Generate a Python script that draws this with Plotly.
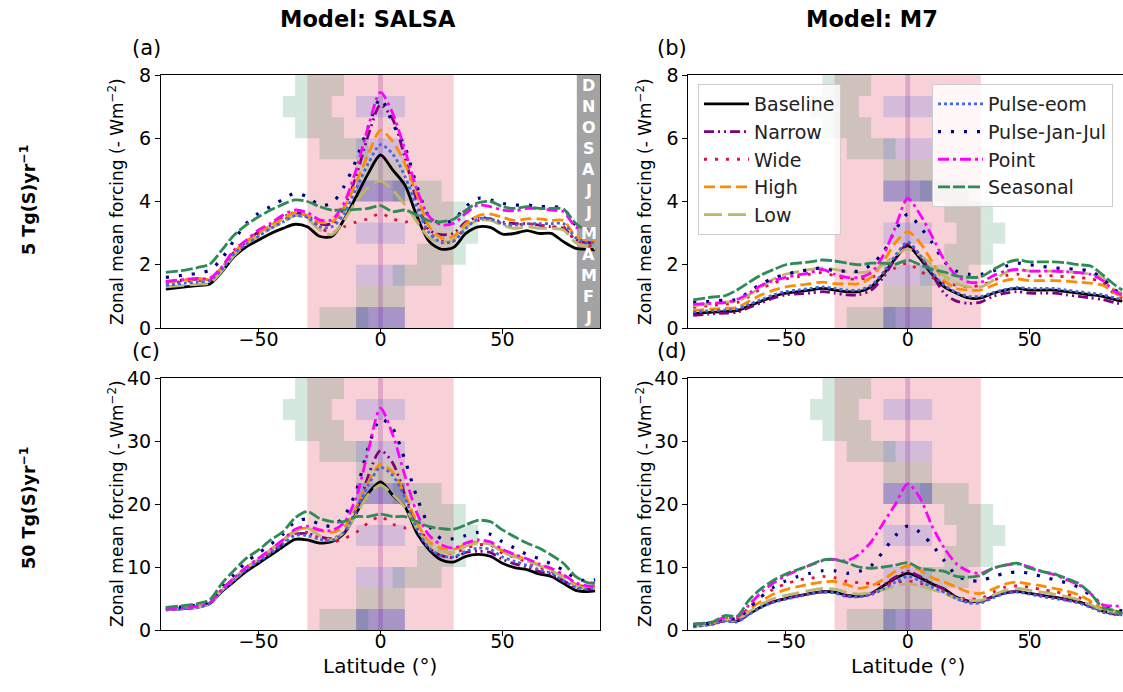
import plotly.graph_objects as go

W, H = 1123, 692

lat = [-88, -80, -75, -70, -65, -60, -55, -50, -45, -40, -35, -30, -25, -20, -15, -10, -5, 0,
       5, 10, 15, 20, 25, 30, 35, 40, 45, 50, 55, 60, 65, 70, 75, 80, 85, 88]

series = ["Baseline", "Narrow", "Wide", "High", "Low", "Pulse-eom", "Pulse-Jan-Jul", "Point", "Seasonal"]

# ---------- Panel (a): SALSA, 5 Tg(S)/yr ----------
a_baseline = [1.23, 1.30, 1.34, 1.39, 1.78, 2.26, 2.57, 2.78, 2.99, 3.15, 3.28, 3.20, 2.90, 2.89, 3.42, 4.15, 4.89, 5.47,
              5.00, 4.52, 3.52, 2.73, 2.49, 2.55, 2.99, 3.20, 3.18, 2.97, 2.99, 3.08, 2.99, 2.99, 2.73, 2.52, 2.49, 2.47]
a_narrow = [1.45, 1.52, 1.55, 1.55, 1.90, 2.40, 2.72, 3.05, 3.25, 3.50, 3.65, 3.55, 3.30, 3.30, 3.80, 4.80, 6.10, 7.05,
            6.60, 5.40, 4.00, 3.10, 2.95, 3.00, 3.35, 3.50, 3.45, 3.35, 3.30, 3.30, 3.25, 3.20, 3.15, 2.80, 2.70, 2.70]
a_wide = [1.40, 1.48, 1.50, 1.50, 1.90, 2.40, 2.70, 2.95, 3.20, 3.40, 3.60, 3.50, 3.20, 3.00, 3.20, 3.35, 3.45, 3.62,
          3.45, 3.35, 3.40, 3.00, 2.75, 2.75, 3.20, 3.40, 3.45, 3.30, 3.25, 3.30, 3.25, 3.20, 3.20, 2.75, 2.60, 2.60]
a_high = [1.45, 1.52, 1.55, 1.55, 1.90, 2.40, 2.75, 3.00, 3.25, 3.45, 3.65, 3.55, 3.35, 3.35, 3.80, 4.60, 5.50, 6.25,
          5.90, 5.20, 4.20, 3.20, 2.85, 2.90, 3.30, 3.55, 3.60, 3.50, 3.40, 3.45, 3.45, 3.40, 3.40, 2.90, 2.75, 2.75]
a_low = [1.30, 1.35, 1.38, 1.42, 1.80, 2.30, 2.65, 2.90, 3.15, 3.35, 3.55, 3.45, 3.10, 2.95, 3.40, 4.00, 4.45, 4.65,
         4.35, 3.90, 3.35, 2.85, 2.70, 2.80, 3.20, 3.40, 3.40, 3.25, 3.15, 3.20, 3.15, 3.15, 3.10, 2.70, 2.55, 2.50]
a_pulse_eom = [1.35, 1.42, 1.45, 1.50, 1.85, 2.35, 2.65, 2.90, 3.15, 3.35, 3.55, 3.50, 3.20, 3.20, 3.60, 4.40, 5.20, 5.80,
               5.50, 4.80, 3.80, 3.00, 2.70, 2.75, 3.15, 3.45, 3.45, 3.30, 3.25, 3.30, 3.30, 3.30, 3.30, 2.85, 2.70, 2.70]
a_pulse_janjul = [1.60, 1.68, 1.73, 1.83, 2.20, 2.78, 3.31, 3.63, 3.84, 4.07, 4.26, 4.15, 3.89, 3.94, 4.47, 5.31, 6.37, 7.26,
                  6.47, 5.73, 4.47, 3.52, 3.31, 3.42, 3.84, 4.10, 4.05, 3.94, 3.89, 3.89, 3.84, 3.84, 3.78, 3.26, 3.10, 3.05]
a_point = [1.47, 1.54, 1.57, 1.57, 1.94, 2.47, 2.78, 3.10, 3.31, 3.57, 3.73, 3.65, 3.42, 3.42, 3.94, 5.00, 6.37, 7.45,
           6.79, 5.63, 4.36, 3.52, 3.26, 3.31, 3.63, 3.89, 3.84, 3.73, 3.71, 3.78, 3.78, 3.73, 3.68, 3.20, 3.08, 3.05]
a_seasonal = [1.76, 1.83, 1.91, 2.02, 2.47, 2.94, 3.26, 3.52, 3.73, 3.91, 4.05, 4.00, 3.84, 3.73, 3.73, 3.75, 3.78, 3.87,
              3.68, 3.73, 3.57, 3.39, 3.36, 3.44, 3.73, 3.96, 4.00, 3.84, 3.78, 3.84, 3.78, 3.78, 3.76, 3.31, 3.05, 3.00]

# ---------- Panel (b): M7, 5 Tg(S)/yr ----------
b_baseline = [0.45, 0.50, 0.52, 0.55, 0.70, 0.85, 1.00, 1.10, 1.15, 1.20, 1.25, 1.20, 1.15, 1.15, 1.30, 1.70, 2.20, 2.60,
              2.20, 1.70, 1.30, 1.10, 0.95, 0.95, 1.10, 1.20, 1.25, 1.20, 1.20, 1.20, 1.15, 1.10, 1.05, 1.00, 0.90, 0.85]
b_narrow = [0.40, 0.45, 0.47, 0.50, 0.65, 0.80, 0.95, 1.05, 1.08, 1.10, 1.15, 1.10, 1.05, 1.05, 1.20, 1.60, 2.20, 2.65,
            2.30, 1.70, 1.10, 0.85, 0.78, 0.82, 1.00, 1.10, 1.15, 1.10, 1.10, 1.10, 1.05, 1.00, 0.95, 0.90, 0.80, 0.75]
b_wide = [0.65, 0.72, 0.75, 0.80, 1.00, 1.25, 1.42, 1.55, 1.62, 1.70, 1.75, 1.65, 1.55, 1.55, 1.60, 1.75, 1.90, 2.05,
          1.80, 1.60, 1.45, 1.35, 1.30, 1.35, 1.50, 1.65, 1.70, 1.65, 1.65, 1.65, 1.62, 1.60, 1.55, 1.45, 1.05, 0.95]
b_high = [0.55, 0.60, 0.62, 0.65, 0.85, 1.05, 1.20, 1.30, 1.35, 1.40, 1.45, 1.40, 1.40, 1.40, 1.60, 2.10, 2.70, 3.05,
          2.70, 2.10, 1.50, 1.25, 1.20, 1.20, 1.35, 1.50, 1.55, 1.50, 1.50, 1.50, 1.48, 1.45, 1.42, 1.35, 1.10, 1.00]
b_low = [0.70, 0.78, 0.82, 0.85, 1.05, 1.30, 1.55, 1.70, 1.78, 1.85, 1.90, 1.85, 1.78, 1.75, 1.80, 2.00, 2.30, 2.50,
         2.30, 2.00, 1.65, 1.40, 1.30, 1.30, 1.50, 1.75, 1.85, 1.80, 1.80, 1.80, 1.78, 1.75, 1.70, 1.60, 1.20, 1.10]
b_pulse_eom = [0.50, 0.55, 0.57, 0.60, 0.75, 0.90, 1.05, 1.15, 1.20, 1.25, 1.30, 1.25, 1.20, 1.20, 1.35, 1.75, 2.30, 2.72,
               2.30, 1.75, 1.35, 1.12, 1.00, 1.00, 1.12, 1.22, 1.28, 1.25, 1.25, 1.25, 1.20, 1.15, 1.10, 1.05, 0.95, 0.90]
b_pulse_janjul = [0.80, 0.85, 0.88, 0.90, 1.15, 1.40, 1.58, 1.70, 1.78, 1.85, 1.90, 1.80, 1.80, 1.80, 2.00, 2.40, 3.10, 3.60,
                  3.20, 2.70, 2.10, 1.80, 1.70, 1.70, 1.80, 1.95, 2.05, 2.00, 1.95, 1.90, 1.88, 1.85, 1.80, 1.55, 1.20, 1.10]
b_point = [0.75, 0.78, 0.80, 0.90, 1.10, 1.35, 1.50, 1.60, 1.68, 1.75, 1.85, 1.70, 1.60, 1.60, 1.75, 2.30, 3.20, 4.10,
           3.60, 2.90, 2.15, 1.65, 1.45, 1.45, 1.65, 1.80, 1.85, 1.80, 1.80, 1.80, 1.78, 1.75, 1.70, 1.50, 1.15, 1.05]
b_seasonal = [0.89, 0.98, 1.02, 1.20, 1.45, 1.68, 1.85, 2.00, 2.05, 2.09, 2.15, 2.12, 2.05, 2.00, 2.05, 2.05, 2.02, 2.15,
              2.00, 1.86, 1.77, 1.65, 1.60, 1.62, 1.84, 2.05, 2.15, 2.09, 2.09, 2.09, 2.06, 2.00, 1.96, 1.68, 1.36, 1.20]

# ---------- Panel (c): SALSA, 50 Tg(S)/yr ----------
c_baseline = [3.2, 3.4, 3.6, 4.2, 6.1, 7.7, 9.3, 10.6, 11.9, 13.2, 14.4, 14.3, 13.8, 14.0, 15.3, 18.5, 21.7, 23.5,
              21.4, 19.6, 15.3, 12.7, 11.1, 10.8, 11.7, 12.0, 11.7, 10.6, 9.9, 9.6, 8.9, 8.5, 7.4, 6.3, 6.1, 6.2]
c_narrow = [3.3, 3.5, 3.7, 4.3, 6.3, 8.0, 9.7, 11.0, 12.3, 13.7, 15.2, 15.3, 14.8, 14.5, 15.5, 18.5, 24.5, 28.5,
            26.5, 21.5, 16.5, 13.0, 11.8, 11.5, 12.3, 12.5, 12.3, 11.2, 10.5, 10.0, 9.3, 8.8, 7.8, 6.8, 6.5, 6.6]
c_wide = [3.3, 3.5, 3.7, 4.3, 6.4, 8.2, 9.9, 11.2, 12.6, 14.0, 15.3, 15.5, 14.8, 14.0, 14.5, 15.5, 17.0, 18.0,
          16.8, 16.2, 16.2, 14.0, 12.5, 12.2, 13.0, 13.5, 13.5, 12.2, 11.5, 10.8, 10.0, 9.3, 8.3, 7.2, 6.9, 7.0]
c_high = [3.3, 3.5, 3.7, 4.3, 6.4, 8.2, 9.9, 11.3, 12.8, 14.3, 15.8, 16.2, 15.8, 15.5, 16.3, 19.5, 23.5, 26.3,
          25.0, 21.5, 17.0, 14.0, 13.0, 12.8, 13.6, 14.0, 13.7, 12.6, 11.8, 11.2, 10.3, 9.6, 8.5, 7.3, 6.9, 7.0]
c_low = [3.2, 3.4, 3.6, 4.2, 6.3, 8.1, 9.8, 11.2, 12.7, 14.2, 15.6, 16.2, 15.0, 14.3, 15.5, 18.3, 21.5, 23.0,
         21.5, 19.5, 16.0, 13.5, 12.5, 12.3, 13.3, 13.8, 13.6, 12.4, 11.6, 11.0, 10.2, 9.5, 8.3, 7.0, 6.6, 6.7]
c_pulse_eom = [3.2, 3.4, 3.6, 4.2, 6.2, 7.9, 9.6, 10.9, 12.2, 13.6, 15.0, 15.0, 14.4, 14.2, 15.5, 19.0, 23.0, 25.8,
               24.5, 21.0, 16.0, 13.0, 11.8, 11.6, 12.5, 13.0, 12.8, 11.6, 10.9, 10.3, 9.6, 9.0, 7.8, 6.8, 6.5, 6.6]
c_pulse_janjul = [3.5, 3.7, 4.0, 4.5, 6.8, 8.8, 10.8, 12.2, 13.6, 15.2, 17.2, 17.6, 16.8, 16.5, 18.0, 22.0, 29.0, 33.5,
                  32.0, 27.0, 21.0, 16.5, 14.5, 14.5, 15.0, 15.5, 15.2, 14.0, 13.0, 12.0, 11.3, 10.5, 9.5, 8.2, 7.8, 8.0]
c_point = [3.3, 3.5, 3.8, 4.3, 6.5, 8.3, 10.0, 11.4, 12.8, 14.3, 16.0, 16.5, 15.9, 15.8, 17.0, 21.0, 28.5, 35.2,
           31.0, 24.5, 18.5, 15.0, 13.5, 13.0, 13.8, 14.3, 14.0, 12.8, 12.0, 11.3, 10.5, 9.8, 8.8, 7.5, 7.0, 7.0]
c_seasonal = [3.6, 3.9, 4.2, 4.8, 7.4, 9.5, 11.4, 12.7, 14.3, 15.6, 17.8, 18.8, 17.7, 17.2, 17.2, 18.0, 18.0, 18.4,
              18.0, 18.0, 17.2, 16.4, 16.1, 16.0, 16.7, 17.4, 17.2, 15.9, 14.8, 13.8, 13.0, 11.9, 10.6, 8.5, 7.5, 7.5]

# ---------- Panel (d): M7, 50 Tg(S)/yr ----------
d_baseline = [0.6, 1.0, 1.5, 1.4, 2.6, 3.7, 4.5, 5.0, 5.4, 5.8, 6.1, 6.0, 5.5, 5.4, 5.8, 7.0, 8.2, 9.0,
              8.3, 7.3, 6.5, 5.2, 4.6, 4.6, 5.3, 5.9, 6.1, 5.8, 5.5, 5.2, 4.9, 4.5, 3.8, 3.0, 2.6, 2.5]
d_narrow = [0.6, 1.0, 1.5, 1.4, 2.6, 3.7, 4.5, 5.0, 5.4, 5.8, 6.0, 5.9, 5.4, 5.3, 5.8, 7.1, 8.4, 9.3,
            8.5, 7.4, 6.4, 5.0, 4.5, 4.5, 5.3, 5.9, 6.1, 5.8, 5.5, 5.2, 4.8, 4.4, 3.7, 2.9, 2.5, 2.4]
d_wide = [0.7, 1.2, 1.8, 1.8, 3.6, 5.3, 6.5, 7.3, 7.9, 8.2, 8.5, 8.3, 7.7, 7.5, 7.4, 7.3, 7.5, 7.8,
          7.4, 6.9, 6.0, 5.2, 4.9, 5.0, 6.0, 6.8, 7.0, 6.8, 6.4, 6.1, 5.7, 5.2, 4.3, 3.3, 2.9, 2.7]
d_high = [0.7, 1.1, 1.6, 1.6, 3.2, 4.6, 5.7, 6.4, 6.9, 7.3, 7.6, 7.7, 7.2, 6.6, 7.0, 8.0, 9.3, 10.2,
          9.5, 8.3, 7.6, 6.8, 6.0, 5.8, 6.5, 7.3, 7.6, 7.3, 7.0, 6.6, 6.2, 5.6, 4.6, 3.4, 3.0, 2.8]
d_low = [0.6, 1.1, 1.6, 1.5, 2.9, 4.1, 5.0, 5.5, 5.9, 6.3, 6.6, 6.5, 6.0, 5.7, 5.9, 6.4, 7.0, 7.3,
         7.0, 6.4, 5.8, 5.0, 4.7, 4.7, 5.5, 6.3, 6.6, 6.3, 6.0, 5.7, 5.3, 4.8, 4.0, 3.1, 2.8, 2.6]
d_pulse_eom = [0.5, 0.9, 1.4, 1.3, 2.5, 3.6, 4.4, 4.9, 5.3, 5.7, 6.0, 5.9, 5.3, 5.3, 5.6, 6.5, 7.6, 8.5,
               7.8, 6.8, 6.0, 5.0, 4.3, 4.3, 5.1, 5.8, 6.0, 5.7, 5.3, 5.0, 4.7, 4.3, 3.6, 2.8, 2.5, 2.4]
d_pulse_janjul = [0.8, 1.2, 1.8, 1.8, 3.5, 5.3, 6.8, 7.8, 8.5, 9.0, 9.4, 9.4, 9.0, 9.3, 10.2, 12.5, 15.0, 16.5,
                  15.5, 13.5, 11.0, 8.7, 7.9, 7.8, 8.5, 9.0, 9.2, 9.0, 8.5, 8.0, 7.5, 6.8, 5.5, 4.0, 3.3, 3.0]
d_point = [0.9, 1.3, 2.0, 2.0, 4.0, 6.0, 7.5, 8.6, 9.5, 10.3, 11.0, 11.2, 11.0, 12.0, 14.0, 17.0, 20.0, 23.2,
           21.0, 16.5, 13.0, 10.5, 9.3, 9.0, 9.8, 10.3, 10.5, 10.0, 9.3, 8.8, 8.0, 7.2, 5.8, 4.0, 3.8, 3.8]
d_seasonal = [0.95, 1.3, 2.3, 2.2, 4.8, 6.6, 7.9, 8.9, 9.6, 10.3, 11.1, 11.2, 10.7, 10.0, 9.8, 10.0, 10.3, 10.7,
              9.8, 9.5, 9.3, 8.5, 8.4, 8.7, 9.8, 10.3, 10.6, 9.8, 9.3, 8.9, 8.2, 7.4, 5.8, 3.6, 3.1, 2.6]

panel_a = [a_baseline, a_narrow, a_wide, a_high, a_low, a_pulse_eom, a_pulse_janjul, a_point, a_seasonal]
panel_b = [b_baseline, b_narrow, b_wide, b_high, b_low, b_pulse_eom, b_pulse_janjul, b_point, b_seasonal]
panel_c = [c_baseline, c_narrow, c_wide, c_high, c_low, c_pulse_eom, c_pulse_janjul, c_point, c_seasonal]
panel_d = [d_baseline, d_narrow, d_wide, d_high, d_low, d_pulse_eom, d_pulse_janjul, d_point, d_seasonal]

# Injection regions (shading)
month_labels = ["J", "F", "M", "A", "M", "J", "J", "A", "S", "O", "N", "D"]
seasonal_lo = [-25, -10, 5, 15, 20, 15, 5, -10, -25, -35, -40, -35]
seasonal_hi = [-5, 10, 25, 35, 40, 35, 25, 10, -5, -15, -20, -15]
pulse_eom_months = [0, 2, 4, 6, 8, 10]
pulse_janjul_months = [0, 6]
pulse_lat = (-10, 10)
wide_lat = (-30, 30)
point_lat = (-1, 1)

colors = ["black", "purple", "crimson", "darkorange", "darkkhaki", "royalblue", "navy", "magenta", "seagreen"]
dashes = ["solid", "10px,4px,2px,4px,2px,4px", "3px,8px", "11px,5px", "18px,6px",
          "3px,3px", "3px,10px", "11px,4px,3px,4px", "12px,3px"]
widths = [2.8, 2.8, 2.8, 2.8, 2.8, 2.8, 3.2, 2.8, 2.8]

FONT = "DejaVu Sans"

def px_x(p):
    return p / W

def px_y(p):
    return 1 - p / H

fig = go.Figure()

panels = [
    ("x", "y", panel_a, 8),
    ("x2", "y2", panel_b, 8),
    ("x3", "y3", panel_c, 40),
    ("x4", "y4", panel_d, 40),
]

for pi, (xr, yr, pdata, ymax) in enumerate(panels):
    for si, name in enumerate(series):
        show = (pi == 1)
        fig.add_trace(go.Scatter(
            x=lat, y=pdata[si], mode="lines", name=name,
            line=dict(color=colors[si], dash=dashes[si], width=widths[si], shape="spline", smoothing=0.8),
            xaxis=xr, yaxis=yr, showlegend=show, legendgroup=name,
            legend=("legend" if si < 5 else "legend2"),
        ))

shapes = []
for pi, (xr, yr, pdata, ymax) in enumerate(panels):
    mh = ymax / 12.0
    shapes.append(dict(type="rect", xref=xr, yref=yr, x0=wide_lat[0], x1=wide_lat[1], y0=0, y1=ymax,
                       fillcolor="rgba(220,20,60,0.2)", line=dict(width=0), layer="below"))
    shapes.append(dict(type="rect", xref=xr, yref=yr, x0=point_lat[0], x1=point_lat[1], y0=0, y1=ymax,
                       fillcolor="rgba(128,0,128,0.2)", line=dict(width=0), layer="below"))
    for m in range(12):
        shapes.append(dict(type="rect", xref=xr, yref=yr, x0=seasonal_lo[m], x1=seasonal_hi[m],
                           y0=m * mh, y1=(m + 1) * mh, fillcolor="rgba(46,139,87,0.2)",
                           line=dict(width=0), layer="below"))
    for m in pulse_eom_months:
        shapes.append(dict(type="rect", xref=xr, yref=yr, x0=pulse_lat[0], x1=pulse_lat[1],
                           y0=m * mh, y1=(m + 1) * mh, fillcolor="rgba(65,105,225,0.2)",
                           line=dict(width=0), layer="below"))
    for m in pulse_janjul_months:
        shapes.append(dict(type="rect", xref=xr, yref=yr, x0=pulse_lat[0], x1=pulse_lat[1],
                           y0=m * mh, y1=(m + 1) * mh, fillcolor="rgba(0,0,128,0.2)",
                           line=dict(width=0), layer="below"))

# month strip in panel (a)
shapes.append(dict(type="rect", xref="x", yref="y", x0=80.5, x1=90, y0=0, y1=8,
                   fillcolor="#a3a3a3", line=dict(width=0), layer="below"))

annotations = []
for m in range(12):
    annotations.append(dict(x=85.3, y=(m + 0.5) * 8 / 12, xref="x", yref="y", text="<b>%s</b>" % month_labels[m],
                            showarrow=False, font=dict(family=FONT, size=16, color="white")))

def ann(text, x, y, size, angle=0):
    annotations.append(dict(x=px_x(x), y=px_y(y), xref="paper", yref="paper", text=text, showarrow=False,
                            textangle=angle, font=dict(family=FONT, size=size, color="black"),
                            xanchor="center", yanchor="middle"))

ann("<b>Model: SALSA</b>", 368, 19, 22.5)
ann("<b>Model: M7</b>", 872, 19, 22.5)
ann("(a)", 146, 48, 21)
ann("(b)", 672, 48, 21)
ann("(c)", 146, 351, 21)
ann("(d)", 672, 351, 21)
ann("<b>5 Tg(S)yr<sup>−1</sup></b>", 28, 200, 17.5, -90)
ann("<b>50 Tg(S)yr<sup>−1</sup></b>", 28, 508, 17.5, -90)
ylab = "Zonal mean forcing (- Wm<sup>−2</sup>)"
ann(ylab, 116, 202, 17, -90)
ann(ylab, 644, 202, 17, -90)
ann(ylab, 116, 504, 17, -90)
ann(ylab, 644, 504, 17, -90)
ann("Latitude (°)", 380, 666, 20)
ann("Latitude (°)", 908, 666, 20)

ax_common = dict(showline=True, linecolor="black", linewidth=1, ticks="outside", ticklen=5, tickwidth=1,
                 tickcolor="black", showgrid=False, zeroline=False, automargin=False,
                 tickfont=dict(family=FONT, size=19, color="black"))

xa = [161, 600]
xb = [688.3, 1123]
ya = [75, 328]
yc = [378, 630]
xr_right = (1123 - 907.7) / 2.438

xtick = dict(tickvals=[-50, 0, 50], ticktext=["−50", "0", "50"], ticklabelstandoff=-11)

layout = dict(
    width=W, height=H, margin=dict(l=0, r=0, t=0, b=0, autoexpand=False),
    paper_bgcolor="white", plot_bgcolor="rgba(0,0,0,0)",
    shapes=shapes, annotations=annotations,
    xaxis=dict(domain=[px_x(xa[0]), px_x(xa[1])], range=[-90, 90], anchor="y", mirror=True, **xtick, **ax_common),
    yaxis=dict(domain=[px_y(ya[1]), px_y(ya[0])], range=[0, 8], tickvals=[0, 2, 4, 6, 8], anchor="x",
               mirror=True, **ax_common),
    xaxis2=dict(domain=[px_x(xb[0]), 1.0], range=[-90, xr_right], anchor="y2", mirror=True, **xtick, **ax_common),
    yaxis2=dict(domain=[px_y(ya[1]), px_y(ya[0])], range=[0, 8], tickvals=[0, 2, 4, 6, 8], anchor="x2",
                mirror=False, **ax_common),
    xaxis3=dict(domain=[px_x(xa[0]), px_x(xa[1])], range=[-90, 90], anchor="y3", mirror=True, **xtick, **ax_common),
    yaxis3=dict(domain=[px_y(yc[1]), px_y(yc[0])], range=[0, 40], tickvals=[0, 10, 20, 30, 40], anchor="x3",
                mirror=True, **ax_common),
    xaxis4=dict(domain=[px_x(xb[0]), 1.0], range=[-90, xr_right], anchor="y4", mirror=True, **xtick, **ax_common),
    yaxis4=dict(domain=[px_y(yc[1]), px_y(yc[0])], range=[0, 40], tickvals=[0, 10, 20, 30, 40], anchor="x4",
                mirror=False, **ax_common),
    legend=dict(x=px_x(698), y=px_y(84), xanchor="left", yanchor="top", bgcolor="rgba(255,255,255,0.8)",
                bordercolor="#cccccc", borderwidth=1, font=dict(family=FONT, size=19, color="#222"),
                tracegroupgap=0, itemwidth=45),
    legend2=dict(x=px_x(932), y=px_y(84), xanchor="left", yanchor="top", bgcolor="rgba(255,255,255,0.8)",
                 bordercolor="#cccccc", borderwidth=1, font=dict(family=FONT, size=19, color="#222"),
                 tracegroupgap=0, itemwidth=45),
)
fig.update_layout(**layout)
fig.write_html("out.html")
